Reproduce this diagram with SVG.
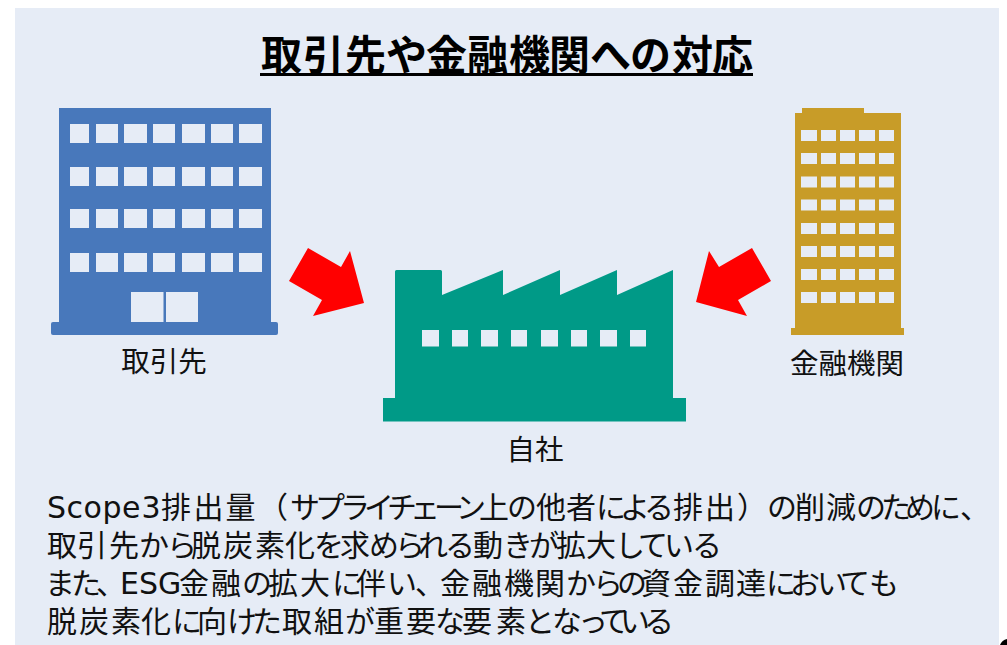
<svg xmlns="http://www.w3.org/2000/svg" width="1007" height="645" viewBox="0 0 1007 645">
<style>
text{font-family:"DejaVu Sans","Noto Sans CJK JP",sans-serif;fill:#111}
.t{font-size:41px;font-weight:700;fill:#000}
.l{font-size:28.500px;text-anchor:middle}
.b{font-size:30px}
.w{fill:#e6ecf6}
.a{fill:#ff0000}
</style>
<defs>
<g id="bw"><rect class="w" width="19" height="19" x="70"/><rect class="w" width="22" height="19" x="96"/><rect class="w" width="23" height="19" x="124"/><rect class="w" width="22" height="19" x="153"/><rect class="w" width="23" height="19" x="182"/><rect class="w" width="22" height="19" x="211"/><rect class="w" width="23" height="19" x="239"/></g>
<g id="gw"><rect class="w" width="16" height="11" x="801"/><rect class="w" width="15" height="11" x="821"/><rect class="w" width="15" height="11" x="840"/><rect class="w" width="16" height="11" x="859"/><rect class="w" width="15" height="11" x="879"/></g>
</defs>
<rect id="panel" x="15" y="8" width="984" height="637" fill="#e6ecf6"/>
<g id="title"><text class="t" y="70" x="261 303 345 386 426 467 509 549 590 630 672 712">取引先や金融機関への対応</text><rect x="260" y="73" width="493" height="3" fill="#000"/></g>
<g id="node-client">
<rect x="59" y="108" width="212" height="216" fill="#4878bb"/>
<rect x="51" y="322" width="227" height="13" rx="2" fill="#4878bb"/>
<use href="#bw" y="124"/><use href="#bw" y="167"/><use href="#bw" y="209"/><use href="#bw" y="253"/>
<rect class="w" x="131" y="292" width="32.500" height="30"/><rect class="w" x="166" y="292" width="32" height="30"/>
<text class="l" x="164" y="372">取引先</text>
</g>
<g id="node-self">
<path d="M395 271.500Q395 270 396.500 270H440.500Q442 270 442 271.500V295L503 270V295L560 270V295L617 270V295L673 270V398H686V421.500H383V398H395Z" fill="#009a87"/>
<rect class="w" x="422" y="330" width="17" height="16.500"/><rect class="w" x="452" y="330" width="16" height="16.500"/><rect class="w" x="481" y="330" width="17" height="16.500"/><rect class="w" x="511" y="330" width="16" height="16.500"/><rect class="w" x="541" y="330" width="17" height="16.500"/><rect class="w" x="571" y="330" width="16" height="16.500"/><rect class="w" x="600" y="330" width="17" height="16.500"/><rect class="w" x="630" y="330" width="16" height="16.500"/>
<text class="l" x="535" y="460">自社</text>
</g>
<g id="node-bank">
<path d="M802 108H864V113H901V328H904V335H791V328H795V113H802Z" fill="#c89c28"/>
<use href="#gw" y="130"/><use href="#gw" y="153"/><use href="#gw" y="176.500"/><use href="#gw" y="199.500"/><use href="#gw" y="223"/><use href="#gw" y="246"/><use href="#gw" y="269"/><use href="#gw" y="292"/>
<text class="l" x="847" y="374">金融機関</text>
</g>
<g id="connectors">
<polygon class="a" points="308,248 341,267 350,251 364,303 313,316 322,300 289,281"/>
<polygon class="a" points="752,248 771,281 738,300 747,316 696,302 709,251 719,267"/>
</g>
<g id="body">
<text class="b" y="518" x="47 66.500 83.500 102.500 122 141.500 161 193.500 225.500 258 290 315 340 364 387 410 434 456 479 507 536 566 596 620 644 673 705 737 767 795 826 856 881 905 931 960">Scope3排出量（サプライチェーン上の他者による排出）の削減のために、</text>
<text class="b" y="556" x="47 77 109 139 167 191 223 255 285 314 340 369 395 418 445 473 503 529 556 586 615 638 664 692">取引先から脱炭素化を求められる動きが拡大している</text>
<text class="b" y="594" x="45 71 96 120 139 158 179 211 242 268 300 332 356 387 415 440 472 504 535 566 593 617 641 673 705 736 766 790 817 840 869">また、ESG金融の拡大に伴い、金融機関からの資金調達においても</text>
<text class="b" y="632" x="47 79 111 141 172 197 227 252 282 314 345 374 406 435 462 496 525 552 578 599 620 644">脱炭素化に向けた取組が重要な要素となっている</text>
</g>
<path id="corner-mark" d="M1000 645Q1002 640 1007 639V645Z" fill="#000"/>
</svg>
